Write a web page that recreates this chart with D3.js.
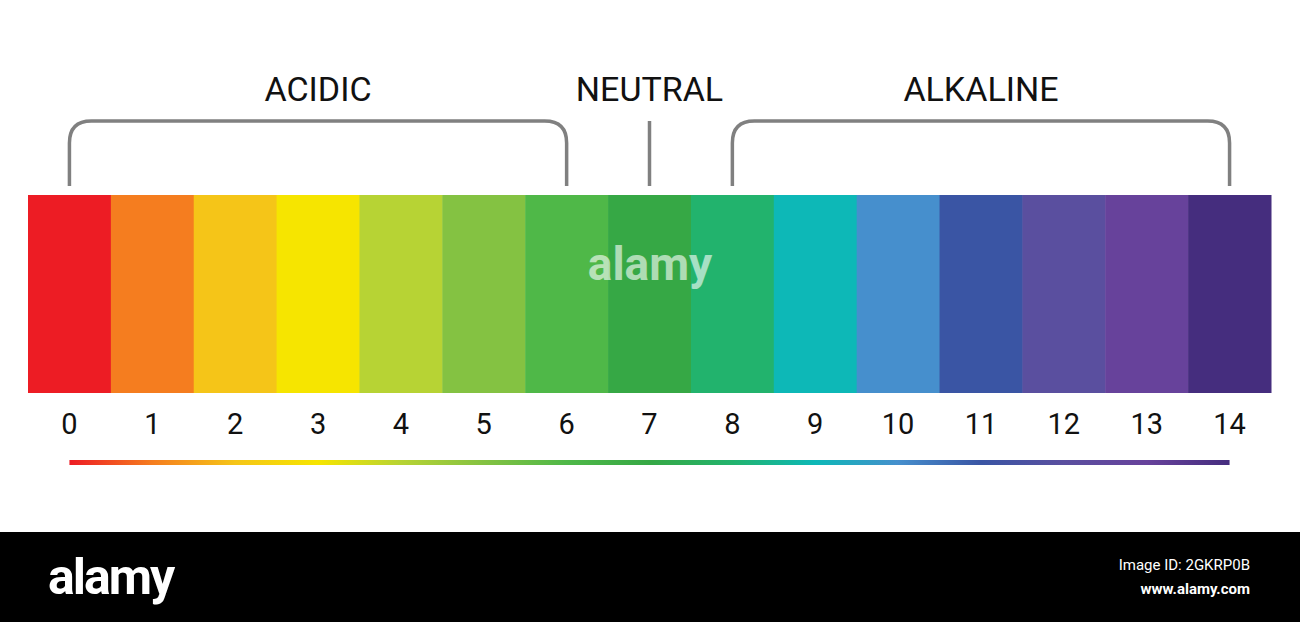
<!DOCTYPE html>
<html><head><meta charset="utf-8">
<script src="https://cdn.jsdelivr.net/npm/d3@7"></script>
<style>body{margin:0;background:#fff}svg{display:block}</style></head>
<body><svg id="c" width="1300" height="622"></svg>
<script>
const phValues=[0,1,2,3,4,5,6,7,8,9,10,11,12,13,14];
const phColors=["#ed1c24","#f57d1f","#f5c518","#f6e500","#b7d334","#84c242","#4fb848","#36a845","#22b36d","#0db8b7","#468fcd","#3a55a4","#5a4f9f","#67429b","#452d7e"];
const groups=[{label:"ACIDIC",from:0,to:6},{label:"NEUTRAL",from:7,to:7},{label:"ALKALINE",from:8,to:14}];

(function(){
const svg=d3.select("#c");
const x=d3.scaleBand().domain(phValues).range([28,1271]).padding(0);
const cx=v=>x(v)+x.bandwidth()/2;
const font="Roboto, 'Open Sans', sans-serif";

svg.selectAll("rect.bar").data(phValues).join("rect")
 .attr("x",d=>x(d)).attr("y",195).attr("width",x.bandwidth()+0.5).attr("height",198)
 .attr("fill",(d,i)=>phColors[i]);

svg.selectAll("text.tick").data(phValues).join("text")
 .attr("x",cx).attr("y",434).attr("text-anchor","middle")
 .attr("font-family",font).attr("font-size",29).attr("fill","#111").text(d=>d);

const defs=svg.append("defs");
const g=defs.append("linearGradient").attr("id","grad");
phColors.forEach((c,i)=>g.append("stop").attr("offset",i/(phColors.length-1)).attr("stop-color",c));
svg.append("rect").attr("x",cx(0)).attr("y",460).attr("width",cx(14)-cx(0)).attr("height",5).attr("fill","url(#grad)");

const r=22,yTop=121,yBot=186;
groups.forEach(gr=>{
  const a=cx(gr.from),b=cx(gr.to);
  let p;
  if(gr.from===gr.to){p=`M${a},${yTop}V${yBot}`;}
  else p=`M${a},${yBot}V${yTop+r}Q${a},${yTop} ${a+r},${yTop}H${b-r}Q${b},${yTop} ${b},${yTop+r}V${yBot}`;
  svg.append("path").attr("d",p).attr("fill","none").attr("stroke","#808080").attr("stroke-width",3.5);
  svg.append("text").attr("x",(a+b)/2).attr("y",101).attr("text-anchor","middle")
   .attr("font-family",font).attr("font-size",34).attr("fill","#111").text(gr.label);
});

svg.append("text").attr("x",650).attr("y",280).attr("text-anchor","middle").attr("font-family",font)
 .attr("font-weight","bold").attr("font-size",46).attr("fill","#fff").attr("opacity",0.6).text("alamy");

svg.append("rect").attr("x",0).attr("y",532).attr("width",1300).attr("height",90).attr("fill","#000");
svg.append("text").attr("x",48).attr("y",594).attr("font-family",font).attr("font-weight","bold")
 .attr("font-size",50).attr("fill","#fff").attr("letter-spacing",-2).text("alamy");
svg.append("text").attr("x",1250).attr("y",570).attr("text-anchor","end").attr("font-family",font)
 .attr("font-size",15).attr("fill","#fff").text("Image ID: 2GKRP0B");
svg.append("text").attr("x",1250).attr("y",594).attr("text-anchor","end").attr("font-family",font)
 .attr("font-size",15).attr("font-weight","bold").attr("fill","#fff").text("www.alamy.com");
})();
</script></body></html>
